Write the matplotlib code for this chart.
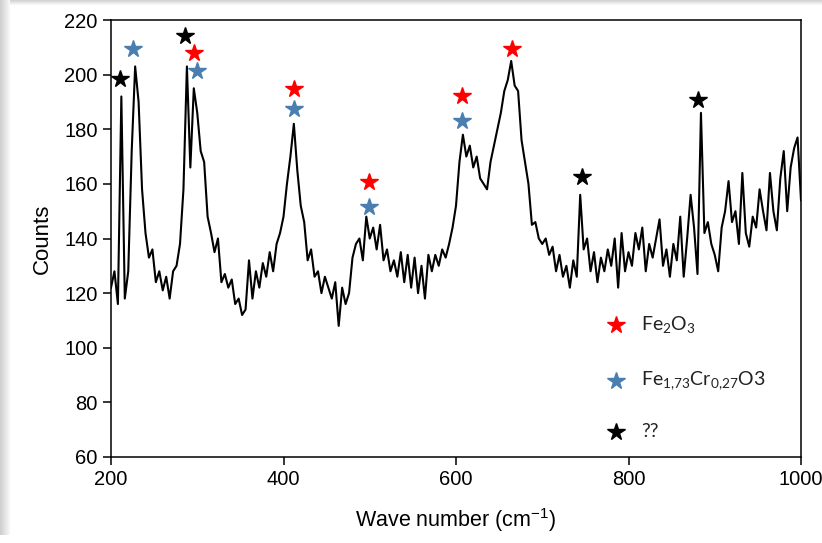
import matplotlib.pyplot as plt
import numpy as np
from matplotlib.patches import Rectangle

# Raman spectrum, one value every 4 cm-1 from 200 to 1000
wave_start, wave_stop, wave_step = 200, 1000, 4
counts = [
    122, 128, 116, 192, 118, 128, 172, 203, 190, 158,   # 200-236
    142, 133, 136, 124, 128, 121, 126, 118, 128, 130,   # 240-276
    138, 158, 203, 166, 195, 186, 172, 168, 148, 142,   # 280-316
    135, 140, 124, 127, 122, 125, 116, 118, 112, 114,   # 320-356
    132, 118, 128, 122, 131, 126, 135, 128, 138, 142,   # 360-396
    148, 160, 170, 182, 165, 152, 146, 132, 136, 126,   # 400-436
    128, 120, 126, 122, 118, 124, 108, 122, 116, 120,   # 440-476
    133, 138, 140, 132, 148, 140, 144, 136, 145, 132,   # 480-516
    136, 128, 132, 126, 135, 124, 134, 122, 133, 120,   # 520-556
    130, 118, 134, 128, 134, 130, 136, 133, 138, 144,   # 560-596
    152, 168, 178, 170, 174, 166, 170, 162, 160, 158,   # 600-636
    168, 174, 180, 186, 194, 198, 205, 196, 194, 176,   # 640-676
    168, 160, 145, 146, 140, 138, 140, 134, 137, 128,   # 680-716
    134, 126, 130, 122, 132, 126, 156, 136, 140, 128,   # 720-756
    135, 124, 133, 128, 136, 130, 140, 122, 142, 128,   # 760-796
    135, 130, 142, 136, 144, 128, 138, 133, 140, 147,   # 800-836
    130, 136, 126, 138, 132, 148, 126, 140, 156, 144,   # 840-876
    127, 186, 142, 146, 138, 134, 128, 144, 150, 161,   # 880-916
    146, 150, 138, 164, 142, 137, 148, 144, 158, 150,   # 920-956
    143, 164, 150, 143, 162, 172, 150, 166, 173, 177,   # 960-996
    154,                                                # 1000
]
wave = np.arange(wave_start, wave_stop + 1, wave_step)

# peak markers: (wave number, height)
fe2o3_x = [296, 412, 499, 607, 665]
fe2o3_y = [208, 194.8, 160.7, 192, 209.5]
fecr_x = [225.5, 299.7, 412, 499, 607]
fecr_y = [209.5, 201.4, 187.5, 151.6, 183]
unknown_x = [210.4, 285.8, 746, 880.6]
unknown_y = [198.5, 214.2, 162.6, 190.8]

legend_labels = [r'Fe$_{\mathregular{2}}$O$_{\mathregular{3}}$',
                 r'Fe$_{\mathregular{1{,}73}}$Cr$_{\mathregular{0{,}27}}$O3',
                 '??']
legend_colors = ['red', '#4a7eb0', 'black']
legend_y = [108.4, 87.8, 69.2]

plt.rcParams['font.family'] = ['Liberation Sans', 'DejaVu Sans']
plt.rcParams['mathtext.default'] = 'regular'

fig = plt.figure(figsize=(8.22, 5.43), dpi=100)

# soft shadow along the left and top edges
for i in range(10):
    a = 0.06 + 0.035 * (9 - i)
    fig.patches.append(Rectangle((i / 822, 0.015), 1 / 822, 0.985,
                                 transform=fig.transFigure, color='gray',
                                 alpha=a, lw=0))
for i in range(5):
    a = 0.06 + 0.07 * (4 - i)
    fig.patches.append(Rectangle((0.012, 1 - (i + 1) / 543), 0.988, 1 / 543,
                                 transform=fig.transFigure, color='gray',
                                 alpha=a, lw=0))

ax = fig.add_axes([111 / 822, 86 / 543, 690 / 822, 437 / 543])
ax.plot(wave, counts, color='black', lw=1.5)

ax.plot(fe2o3_x, fe2o3_y, ls='none', marker='*', ms=13, color='red')
ax.plot(fecr_x, fecr_y, ls='none', marker='*', ms=13, color='#4a7eb0')
ax.plot(unknown_x, unknown_y, ls='none', marker='*', ms=13, color='black')

for lab, col, yy in zip(legend_labels, legend_colors, legend_y):
    ax.plot([786], [yy], ls='none', marker='*', ms=13, color=col)
    ax.text(815, yy, lab, fontsize=14, va='center', ha='left',
            family=['Lato', 'DejaVu Sans'], color='#222222')

ax.set_xlim(200, 1000)
ax.set_ylim(60, 220)
ax.set_xticks([200, 400, 600, 800, 1000])
ax.set_yticks(np.arange(60, 221, 20))
ax.tick_params(direction='out', length=6, width=1.1, labelsize=14.5)
for s in ax.spines.values():
    s.set_linewidth(1.1)

ax.set_xlabel('Wave number (cm$^{-1}$)', fontsize=15.5, labelpad=12)
ax.set_ylabel('Counts', fontsize=16, labelpad=8)

plt.savefig('out.png', dpi=100)
